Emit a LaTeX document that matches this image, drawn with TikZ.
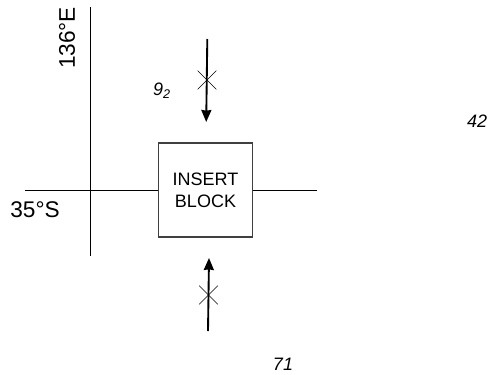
\documentclass[tikz,border=0pt]{standalone}
\usepackage{fontspec}
\setmainfont{Liberation Sans}
\usetikzlibrary{positioning,arrows.meta,shapes.misc}

\begin{document}
\begin{tikzpicture}[
  x=0.75pt,y=-0.75pt,
  font=\fontsize{13.5}{16.5}\selectfont,
  blockbox/.style={draw=black!75,line width=0.9pt,minimum size=70.5pt,inner sep=0pt,align=center},
  gridline/.style={line width=0.75pt},
  crossmark/.style={cross out,draw,line width=0.45pt,minimum size=13.5pt,inner sep=0pt},
  coordtext/.style={font=\fontsize{17}{20}\selectfont},
  reftext/.style={font=\fontsize{13.5}{16}\selectfont\itshape},
  flowarrow/.style={-{Stealth[length=9pt,width=7.5pt,inset=0.5pt]},line width=1.4pt}
]
\useasboundingbox (0,0) rectangle (491,374);
\node[blockbox] (block) at (205.5,190) {INSERT\\BLOCK};
\coordinate (latwest) at (25,190);
\coordinate (lateast) at (317,190);
\coordinate (lontop) at (90,7);
\coordinate (lonbottom) at (90,256);
\coordinate (topstart) at (207.3,39);
\coordinate (topend) at (206.2,122);
\coordinate (bottomstart) at (208,331);
\coordinate (bottomend) at (209,258);
\draw[gridline] (latwest)--(latwest-|block.west);
\draw[gridline] (lateast)--(lateast-|block.east);
\draw[gridline] (lontop)--(lonbottom);
\draw[flowarrow] (topstart)--(topend);
\draw[flowarrow] (bottomstart)--(bottomend);
\node[crossmark] (topcross) at (207,80) {};
\node[crossmark] (bottomcross) at (208.5,295) {};
\node[coordtext,rotate=90] (lonlabel) at (67,38) {136°E};
\node[coordtext] (latlabel) at (35,210) {35°S};
\node[reftext] (ninelabel) at (162,91) {9\textsubscript{2}};
\node[reftext] (fortytwo) at (477,121.5) {42};
\node[reftext] (seventyone) at (283,364) {71};
\end{tikzpicture}
\end{document}
